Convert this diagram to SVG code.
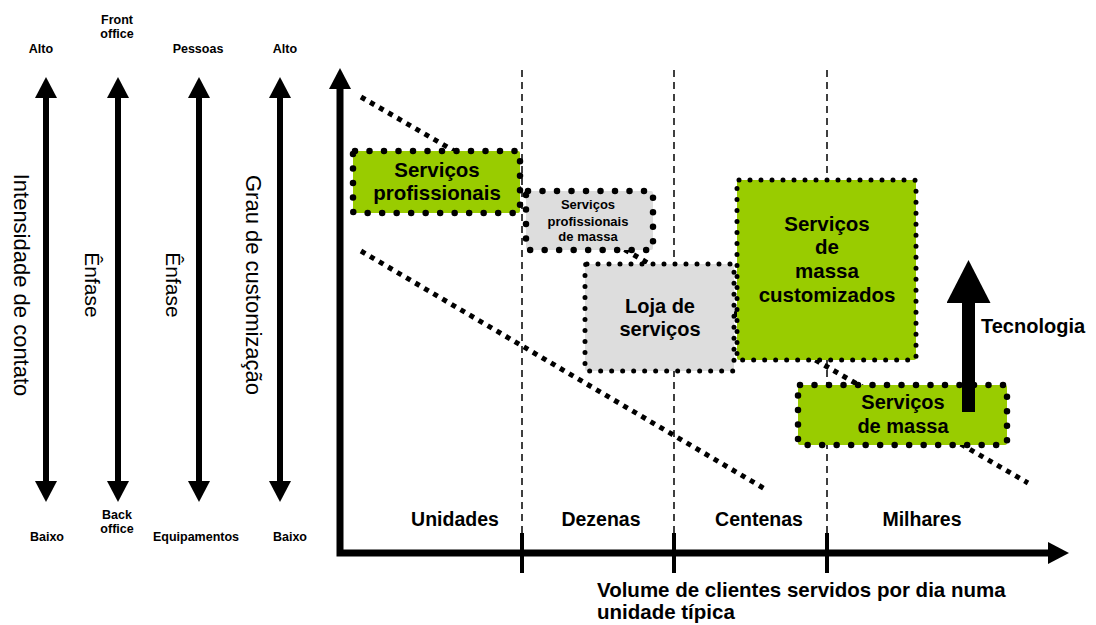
<svg xmlns="http://www.w3.org/2000/svg" width="1096" height="625" viewBox="0 0 1096 625">
  <defs>
    <style>
      text { font-family: "Liberation Sans", Arial, sans-serif; fill: #000; }
      .lbl { font-size: 12.5px; font-weight: bold; text-anchor: middle; }
      .vert { font-size: 22px; text-anchor: middle; }
      .box-green { fill: #99CC00; }
      .box-gray { fill: #DDDDDD; }
      .dots-big { fill: none; stroke: #000; stroke-width: 6.5; stroke-linecap: round; stroke-dasharray: 0 14.5; }
      .dots-small { fill: none; stroke: #000; stroke-width: 5; stroke-linecap: round; stroke-dasharray: 0 11; }
      .btxt { font-size: 20.5px; font-weight: bold; text-anchor: middle; }
      .axis-lbl { font-size: 19.5px; font-weight: bold; text-anchor: middle; }
      .grid { stroke: #000; stroke-width: 1.5; stroke-dasharray: 7 5; fill: none; }
      .band { stroke: #000; stroke-width: 5; stroke-dasharray: 5 5.5; fill: none; }
      .scale { stroke: #000; stroke-width: 6; fill: none; marker-start: url(#head); marker-end: url(#head); }
    </style>
    <marker id="head" viewBox="0 0 22 22" refX="0" refY="11" markerWidth="22" markerHeight="22" markerUnits="userSpaceOnUse" orient="auto-start-reverse">
      <path d="M0,0 L21,11 L0,22 z" fill="#000"/>
    </marker>
    <marker id="bighead" viewBox="0 0 43 44" refX="0" refY="22" markerWidth="43" markerHeight="44" markerUnits="userSpaceOnUse" orient="auto">
      <path d="M0,0 L43,22 L0,44 z" fill="#000"/>
    </marker>
  </defs>

  <!-- Left-hand scales -->
  <g id="scale-contato">
    <text class="lbl" x="41" y="53">Alto</text>
    <line class="scale" x1="46" y1="98" x2="46" y2="481"/>
    <text class="vert" transform="translate(14,285) rotate(90)">Intensidade de contato</text>
    <text class="lbl" x="47" y="541">Baixo</text>
  </g>
  <g id="scale-office">
    <text class="lbl" x="117" y="24">Front</text>
    <text class="lbl" x="117" y="38">office</text>
    <line class="scale" x1="118" y1="98" x2="118" y2="481"/>
    <text class="vert" style="font-size:21px" transform="translate(85,285) rotate(90)">Ênfase</text>
    <text class="lbl" x="117" y="519">Back</text>
    <text class="lbl" x="117" y="533">office</text>
  </g>
  <g id="scale-pessoas">
    <text class="lbl" x="198" y="53">Pessoas</text>
    <line class="scale" x1="199" y1="98" x2="199" y2="481"/>
    <text class="vert" style="font-size:21px" transform="translate(166,285) rotate(90)">Ênfase</text>
    <text class="lbl" x="196" y="541">Equipamentos</text>
  </g>
  <g id="scale-customizacao">
    <text class="lbl" x="285" y="53">Alto</text>
    <line class="scale" x1="280" y1="98" x2="280" y2="481"/>
    <text class="vert" transform="translate(246,285) rotate(90)">Grau de customização</text>
    <text class="lbl" x="290" y="541">Baixo</text>
  </g>

  <!-- Chart frame, volume bands and boundary lines -->
  <g id="connectors">
    <line class="grid" x1="522" y1="70" x2="522" y2="533"/>
    <line class="grid" x1="674" y1="70" x2="674" y2="533"/>
    <line class="grid" x1="827" y1="70" x2="827" y2="533"/>
    <line class="band" x1="361" y1="97" x2="1028" y2="483"/>
    <line class="band" x1="361" y1="251" x2="765" y2="489"/>
    <path d="M340,89 L340,553 L1048,553" fill="none" stroke="#000" stroke-width="7" stroke-linejoin="miter" marker-start="url(#head)" marker-end="url(#head)"/>
    <g stroke="#000" stroke-width="4">
      <line x1="522" y1="533" x2="522" y2="573"/>
      <line x1="674" y1="533" x2="674" y2="573"/>
      <line x1="827" y1="533" x2="827" y2="573"/>
    </g>
  </g>

  <g id="axis-labels">
    <text class="axis-lbl" x="455" y="526">Unidades</text>
    <text class="axis-lbl" x="601" y="526">Dezenas</text>
    <text class="axis-lbl" x="759" y="526">Centenas</text>
    <text class="axis-lbl" x="922" y="526">Milhares</text>
    <text x="597" y="597" style="font-size:20.5px;font-weight:bold">Volume de clientes servidos por dia numa</text>
    <text x="597" y="619" style="font-size:20.5px;font-weight:bold">unidade típica</text>
  </g>

  <!-- Service types -->
  <g id="servicos-profissionais">
    <rect class="box-green" x="353" y="151" width="167" height="62" rx="2"/>
    <rect class="dots-big" x="353" y="151" width="167" height="62" rx="2"/>
    <text class="btxt" x="437" y="177">Serviços</text>
    <text class="btxt" x="437" y="200">profissionais</text>
  </g>
  <g id="servicos-profissionais-de-massa">
    <rect class="box-gray" x="526" y="191" width="127" height="59" rx="2"/>
    <rect class="dots-big" x="526" y="191" width="127" height="59" rx="2"/>
    <text class="btxt" style="font-size:13px" x="588" y="209">Serviços</text>
    <text class="btxt" style="font-size:13px" x="588" y="226">profissionais</text>
    <text class="btxt" style="font-size:13px" x="588" y="241">de massa</text>
  </g>
  <g id="loja-de-servicos">
    <rect class="box-gray" x="585" y="264" width="149" height="107" rx="2"/>
    <rect class="dots-small" x="585" y="264" width="149" height="107" rx="2"/>
    <text class="btxt" style="font-size:20px" x="660" y="313">Loja de</text>
    <text class="btxt" style="font-size:20px" x="660" y="336">serviços</text>
  </g>
  <g id="servicos-de-massa-customizados">
    <rect class="box-green" x="737" y="180" width="179" height="180" rx="2"/>
    <rect class="dots-small" x="737" y="180" width="179" height="180" rx="2"/>
    <text class="btxt" x="827" y="231">Serviços</text>
    <text class="btxt" x="827" y="254">de</text>
    <text class="btxt" x="827" y="278">massa</text>
    <text class="btxt" x="827" y="302">customizados</text>
  </g>
  <g id="servicos-de-massa">
    <rect class="box-green" x="798" y="385" width="209" height="60" rx="2"/>
    <rect class="dots-big" x="798" y="385" width="209" height="60" rx="2"/>
    <text class="btxt" style="font-size:20px" x="903" y="409">Serviços</text>
    <text class="btxt" style="font-size:20px" x="903" y="433">de massa</text>
  </g>

  <g id="tecnologia">
    <line x1="968.5" y1="412" x2="968.5" y2="303" stroke="#000" stroke-width="13" marker-end="url(#bighead)"/>
    <text x="981" y="333" style="font-size:20px;font-weight:bold">Tecnologia</text>
  </g>
</svg>
